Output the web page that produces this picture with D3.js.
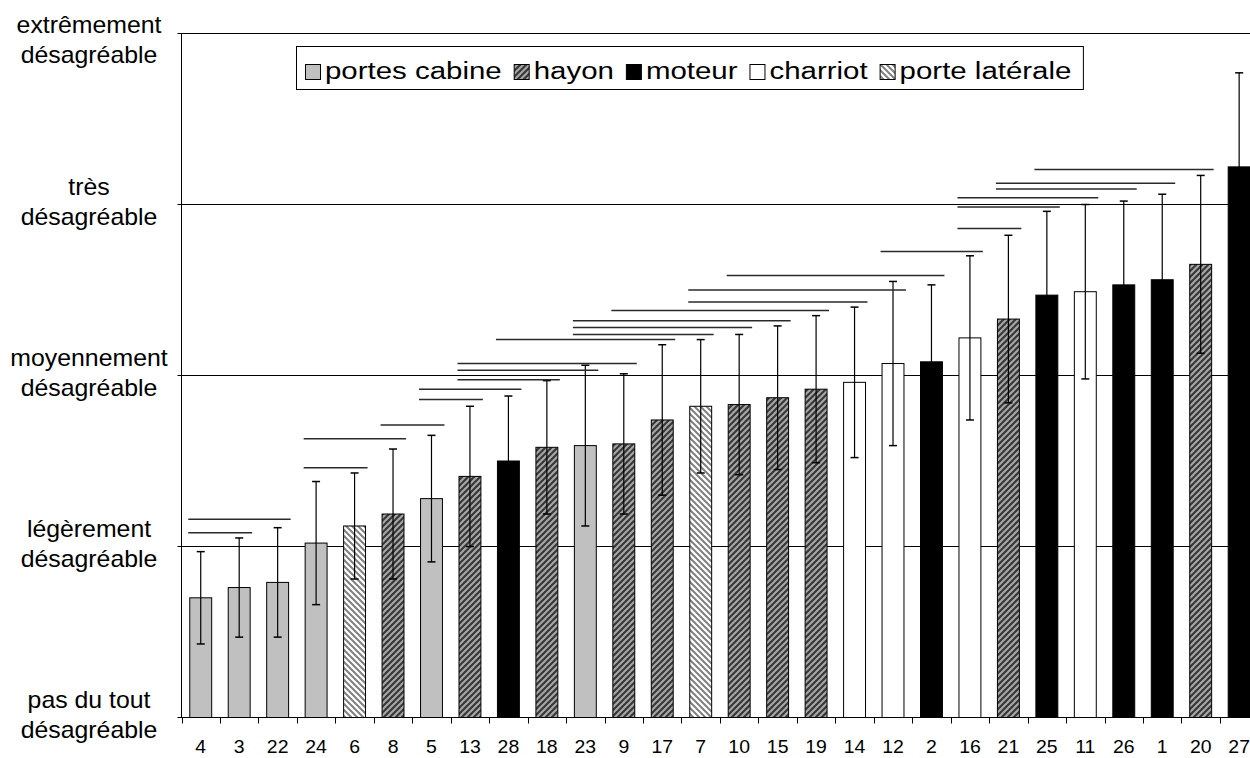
<!DOCTYPE html>
<html><head><meta charset="utf-8">
<script src="https://cdn.jsdelivr.net/npm/d3@7"></script>
<style>html,body{margin:0;padding:0;background:#fff;overflow:hidden}</style>
</head><body>
<svg id="c" width="1250" height="758"></svg>
<script>
// ---------- data ----------
const categories = ["4","3","22","24","6","8","5","13","28","18","23","9","17","7","10","15","19","14","12","2","16","21","25","11","26","1","20","27"];
const groups = ["portes cabine","portes cabine","portes cabine","portes cabine","porte latérale","hayon","portes cabine","hayon","moteur","hayon","portes cabine","hayon","hayon","porte latérale","hayon","hayon","hayon","charriot","charriot","moteur","charriot","hayon","moteur","charriot","moteur","moteur","hayon","moteur"];
const means = [0.70,0.76,0.79,1.02,1.12,1.19,1.28,1.41,1.50,1.58,1.59,1.60,1.74,1.82,1.83,1.87,1.92,1.96,2.07,2.08,2.22,2.33,2.47,2.49,2.53,2.56,2.65,3.22];
const errors = [0.27,0.29,0.32,0.36,0.31,0.38,0.37,0.41,0.38,0.39,0.47,0.41,0.44,0.39,0.41,0.42,0.43,0.44,0.48,0.45,0.48,0.49,0.49,0.51,0.49,0.50,0.52,0.55];
const seriesNames = ["portes cabine","hayon","moteur","charriot","porte latérale"];
const yLevels = [0,1,2,3,4];
const yLabels = [["pas du tout","désagréable"],["légèrement","désagréable"],["moyennement","désagréable"],["très","désagréable"],["extrêmement","désagréable"]];
// groupings (non-significant differences): [from, to, level]
const sigLines = [
  ["4","22",1.16],["4","3",1.08],["24","8",1.63],["24","6",1.46],["8","5",1.71],
  ["5","13",1.86],["5","28",1.92],["13","9",2.07],["13","23",2.03],["13","18",1.975],
  ["28","17",2.21],["23","7",2.24],["23","10",2.28],["23","15",2.32],["9","19",2.38],
  ["7","14",2.43],["7","12",2.50],["10","2",2.585],["12","16",2.725],["16","21",2.86],
  ["16","25",2.985],["16","11",3.04],["21","26",3.09],["21","1",3.125],["25","20",3.205]
];

// ---------- setup ----------
const FONT = "'Liberation Sans', Arial, sans-serif";
const svg = d3.select("#c");
svg.append("rect").attr("width",1250).attr("height",758).attr("fill","#fff");
const left = 181.5, step = 38.46;
const x = d3.scaleBand().domain(categories).range([left, left + categories.length*step]).paddingInner(0.43).paddingOuter(0.215);
const y = d3.scaleLinear().domain([0,4]).range([717.5,33.5]);
const bw = x.bandwidth();

const defs = svg.append("defs");
const ph = defs.append("pattern").attr("id","hatchHayon").attr("patternUnits","userSpaceOnUse").attr("width",6).attr("height",6);
ph.append("rect").attr("width",6).attr("height",6).attr("fill","#383838");
ph.append("path").attr("d","M-1,1 L1,-1 M0,6 L6,0 M5,7 L7,5").attr("stroke","#a8a8a8").attr("stroke-width",2);
const pl = defs.append("pattern").attr("id","hatchLat").attr("patternUnits","userSpaceOnUse").attr("width",6).attr("height",6);
pl.append("rect").attr("width",6).attr("height",6).attr("fill","#fff");
pl.append("path").attr("d","M-1,5 L1,7 M0,0 L6,6 M5,-1 L7,1").attr("stroke","#808080").attr("stroke-width",2);

const fills = d3.scaleOrdinal().domain(seriesNames).range(["#c0c0c0","url(#hatchHayon)","#000","#fff","url(#hatchLat)"]);

function sText(parent, px, py, str, size, sx, anchor){
  return parent.append("text")
    .attr("transform",`translate(${px},${py}) scale(${sx},1)`)
    .attr("text-anchor",anchor).attr("font-family",FONT).attr("font-size",size)
    .attr("fill","#000").text(str);
}

// gridlines + left ticks
svg.append("g").selectAll("line").data(yLevels).join("line")
  .attr("x1",left-4).attr("x2",1250)
  .attr("y1",d=>y(d)).attr("y2",d=>y(d))
  .attr("stroke","#000").attr("stroke-width",1);

// bars
const data = categories.map((c,i)=>({c, g:groups[i], m:means[i], e:errors[i]}));
svg.append("g").selectAll("rect").data(data).join("rect")
  .attr("x",d=>x(d.c)).attr("y",d=>y(d.m))
  .attr("width",bw).attr("height",d=>y(0)-y(d.m))
  .attr("fill",d=>fills(d.g)).attr("stroke","#000").attr("stroke-width",1);

// error bars
const eb = svg.append("g").attr("stroke","#000");
data.forEach(d=>{
  const cx = x(d.c)+bw/2;
  eb.append("line").attr("x1",cx).attr("x2",cx).attr("y1",y(d.m-d.e)).attr("y2",y(d.m+d.e)).attr("stroke-width",1.2);
  [d.m-d.e, d.m+d.e].forEach(v=>{
    eb.append("line").attr("x1",cx-4).attr("x2",cx+4).attr("y1",y(v)).attr("y2",y(v)).attr("stroke-width",1.5);
  });
});

// significance lines
svg.append("g").selectAll("line").data(sigLines).join("line")
  .attr("x1",d=>x(d[0])-1.5).attr("x2",d=>x(d[1])+bw+2)
  .attr("y1",d=>y(d[2])).attr("y2",d=>y(d[2]))
  .attr("stroke","#2a2a2a").attr("stroke-width",1.5);

// axes
svg.append("line").attr("x1",left).attr("x2",left).attr("y1",y(4)).attr("y2",y(0)).attr("stroke","#000");
svg.append("line").attr("x1",left).attr("x2",1250).attr("y1",y(0)).attr("y2",y(0)).attr("stroke","#000");
svg.append("g").selectAll("line").data(d3.range(categories.length+1)).join("line")
  .attr("x1",i=>Math.round(left+i*step)+0.5).attr("x2",i=>Math.round(left+i*step)+0.5)
  .attr("y1",y(0)).attr("y2",y(0)+6).attr("stroke","#000");

// x tick labels
const xl = svg.append("g");
categories.forEach(c=>sText(xl, x(c)+bw/2, 753, c, 18, 1.08, "middle"));

// y labels
const yl = svg.append("g");
yLevels.forEach((v,i)=>{
  const b1 = Math.max(y(v)-10, 33);
  sText(yl, 89, b1, yLabels[i][0], 23, 1.08, "middle");
  sText(yl, 89, b1+30, yLabels[i][1], 23, 1.08, "middle");
});

// legend
const lg = svg.append("g");
const box = lg.append("rect").attr("x",296.5).attr("y",46.5).attr("height",43).attr("fill","#fff").attr("stroke","#000");
let cx = 305;
const LSX = 1.28;
seriesNames.forEach(n=>{
  lg.append("rect").attr("x",cx+0.5).attr("y",64.5).attr("width",15).attr("height",15).attr("fill",fills(n)).attr("stroke","#000");
  const t = sText(lg, cx+20, 79, n, 23, LSX, "start");
  cx = cx + 20 + t.node().getComputedTextLength()*LSX + 12;
});
box.attr("width", cx - 296.5);
</script>
</body></html>
